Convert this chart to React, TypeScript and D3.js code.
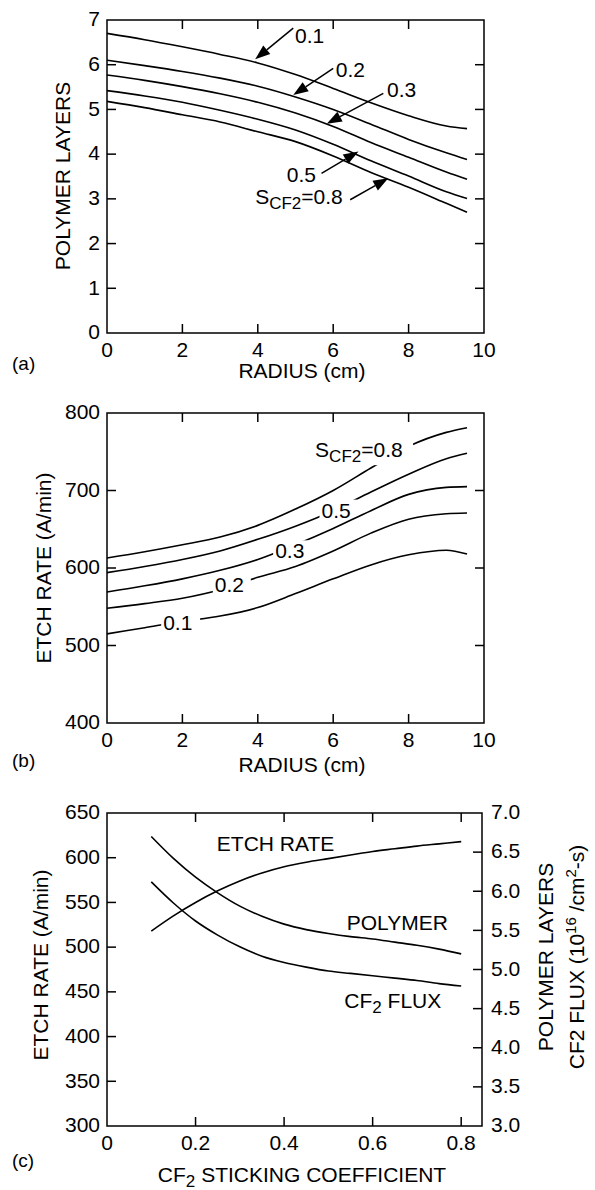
import React from "react";
import * as d3 from "d3";

// radius (cm) sample points shared by panels (a) and (b)
const radius = [0, 1, 2, 3, 4, 5, 6, 7, 8, 9, 9.55];

// (a) polymer layers vs radius, one array per sticking coefficient
const layers01 = [6.7, 6.56, 6.4, 6.23, 6.04, 5.78, 5.47, 5.15, 4.86, 4.63, 4.57];
const layers02 = [6.1, 5.98, 5.85, 5.7, 5.52, 5.28, 5.0, 4.67, 4.33, 4.03, 3.88];
const layers03 = [5.77, 5.65, 5.51, 5.35, 5.16, 4.92, 4.62, 4.26, 3.93, 3.6, 3.44];
const layers05 = [5.42, 5.3, 5.16, 4.98, 4.78, 4.54, 4.22, 3.85, 3.51, 3.16, 3.01];
const layers08 = [5.18, 5.04, 4.88, 4.72, 4.5, 4.28, 3.96, 3.59, 3.26, 2.9, 2.7];

// (b) etch rate (A/min) vs radius
const etch01 = [515, 523, 531, 538, 549, 567, 586, 604, 617, 623, 618];
const etch02 = [548, 554, 561, 572, 588, 602, 622, 645, 663, 670, 671];
const etch03 = [569, 577, 586, 597, 611, 630, 651, 674, 695, 704, 705];
const etch05 = [594, 602, 611, 622, 637, 654, 674, 698, 721, 741, 748];
const etch08 = [613, 621, 630, 640, 655, 676, 700, 729, 757, 775, 781];

// (c) vs CF2 sticking coefficient
const sticking = [0.1, 0.15, 0.2, 0.25, 0.3, 0.35, 0.4, 0.45, 0.5, 0.55, 0.6, 0.65, 0.7, 0.75, 0.8];
const etchRateC = [518, 535, 550, 563, 574, 583, 590, 595, 599, 603, 607, 610, 613, 615.5, 618];
const polymerC = [6.7, 6.42, 6.18, 5.98, 5.81, 5.68, 5.58, 5.51, 5.46, 5.42, 5.39, 5.35, 5.31, 5.26, 5.2];
const fluxC = [6.12, 5.85, 5.62, 5.44, 5.29, 5.17, 5.09, 5.03, 4.98, 4.95, 4.92, 4.89, 4.86, 4.82, 4.79];

// tick values
const xTicksR = [0, 2, 4, 6, 8, 10];
const yTicksA = [0, 1, 2, 3, 4, 5, 6, 7];
const yTicksB = [400, 500, 600, 700, 800];
const xTicksC = [0, 0.2, 0.4, 0.6, 0.8];
const yTicksCL = [300, 350, 400, 450, 500, 550, 600, 650];
const yTicksCR = [3, 3.5, 4, 4.5, 5, 5.5, 6, 6.5, 7];

const FONT = "'Liberation Sans', Arial, Helvetica, sans-serif";
const FS = 21;
const TICK = 9;
const SW = 1.5;

const xA = d3.scaleLinear().domain([0, 10]).range([107, 484]);
const yA = d3.scaleLinear().domain([0, 7]).range([333, 20]);
const xB = d3.scaleLinear().domain([0, 10]).range([107, 484]);
const yB = d3.scaleLinear().domain([400, 800]).range([723, 413]);
const xC = d3.scaleLinear().domain([0, 0.847]).range([107, 482]);
const yCL = d3.scaleLinear().domain([300, 650]).range([1126, 813]);
const yCR = d3.scaleLinear().domain([3, 7]).range([1126, 813]);

function path(xs: number[], ys: number[], xs_: any, ys_: any) {
  const gen = d3
    .line<number>()
    .x((_, i) => xs_(xs[i]))
    .y((d) => ys_(d))
    .curve(d3.curveMonotoneX);
  return gen(ys) || "";
}

function Frame({ x, y, xTicks, yTicks, right = true }: any) {
  const [x0, x1] = x.range();
  const [y0, y1] = y.range();
  const xd = x.domain();
  const yd = y.domain();
  const innerX = xTicks.filter((t: number) => t > xd[0] && t < xd[1]);
  const innerY = yTicks.filter((t: number) => t > yd[0] && t < yd[1]);
  return (
    <g stroke="#000" strokeWidth={SW} fill="none">
      <rect x={x0} y={y1} width={x1 - x0} height={y0 - y1} />
      {innerX.map((t: number) => (
        <g key={"x" + t}>
          <line x1={x(t)} x2={x(t)} y1={y0} y2={y0 - TICK} />
          <line x1={x(t)} x2={x(t)} y1={y1} y2={y1 + TICK} />
        </g>
      ))}
      {innerY.map((t: number) => (
        <g key={"y" + t}>
          <line x1={x0} x2={x0 + TICK} y1={y(t)} y2={y(t)} />
          {right && <line x1={x1} x2={x1 - TICK} y1={y(t)} y2={y(t)} />}
        </g>
      ))}
    </g>
  );
}

function TickLabels({ x, y, xTicks, yTicks, xFmt, yFmt }: any) {
  const [x0] = x.range();
  const [y0] = y.range();
  return (
    <g fontSize={FS} fill="#000">
      {xTicks.map((t: number) => (
        <text key={"x" + t} x={x(t)} y={y0 + 24} textAnchor="middle">
          {xFmt(t)}
        </text>
      ))}
      {yTicks.map((t: number) => (
        <text key={"y" + t} x={x0 - 7} y={y(t)} dy="0.3em" textAnchor="end">
          {yFmt(t)}
        </text>
      ))}
    </g>
  );
}

function Arrow({ tail, tip }: { tail: number[]; tip: number[] }) {
  const [x1, y1] = [xA(tail[0]), yA(tail[1])];
  const [x2, y2] = [xA(tip[0]), yA(tip[1])];
  const a = Math.atan2(y2 - y1, x2 - x1);
  const L = 15, w = 5.5;
  const bx = x2 - L * Math.cos(a), by = y2 - L * Math.sin(a);
  const px = -Math.sin(a) * w, py = Math.cos(a) * w;
  return (
    <g>
      <line x1={x1} y1={y1} x2={bx} y2={by} stroke="#000" strokeWidth={1.5} />
      <polygon points={`${x2},${y2} ${bx + px},${by + py} ${bx - px},${by - py}`} fill="#000" />
    </g>
  );
}

function SLabel({ x, y, value }: any) {
  return (
    <text x={x} y={y} fontSize={FS}>
      <tspan>S</tspan>
      <tspan fontSize={17} dy={5}>CF2</tspan>
      <tspan dy={-5}>={value}</tspan>
    </text>
  );
}

// annotation layout for (a): [radius, layers]
const arrowsA = [
  { label: "0.1", tail: [4.94, 6.82], tip: [3.93, 6.12], at: [4.99, 6.49] },
  { label: "0.2", tail: [6.0, 5.92], tip: [4.94, 5.32], at: [6.07, 5.73] },
  { label: "0.3", tail: [7.33, 5.36], tip: [5.83, 4.68], at: [7.43, 5.28] },
  { label: "0.5", tail: [5.69, 3.57], tip: [6.67, 4.06], at: [4.77, 3.38] },
  { label: "S", tail: [6.45, 2.98], tip: [7.46, 3.46], at: [3.93, 2.88] },
];

// in-line labels for (b): [radius, etch], text width (px), gap padding right
const labelsB = [
  { label: "0.1", at: [1.49, 520], w: 29, pad: 8 },
  { label: "0.2", at: [2.86, 569.4], w: 29, pad: 7 },
  { label: "0.3", at: [4.46, 612.5], w: 29, pad: 8 },
  { label: "0.5", at: [5.69, 665], w: 29, pad: 7 },
  { label: "S", at: [5.52, 743], w: 88, pad: 10 },
];

export default function App() {
  const seriesA = [layers01, layers02, layers03, layers05, layers08];
  const seriesB = [etch01, etch02, etch03, etch05, etch08];
  const intFmt = (t: number) => String(t);
  const oneFmt = d3.format(".1f");
  return (
    <svg
      width={595}
      height={1190}
      style={{ position: "absolute", left: 0, top: 0, background: "#fff" }}
      fontFamily={FONT}
    >
      <rect width={595} height={1190} fill="#fff" />
      <defs>
        {labelsB.map((l, i) => (
          <mask id={"gapB" + i} key={i} maskUnits="userSpaceOnUse" x={0} y={0} width={595} height={1190}>
            <rect x={0} y={0} width={595} height={1190} fill="#fff" />
            <rect
              x={xB(l.at[0]) - 2}
              y={yB(l.at[1]) - 18}
              width={l.w + l.pad + 2}
              height={26}
              fill="#000"
            />
          </mask>
        ))}
      </defs>

      {/* ---------- (a) ---------- */}
      <Frame x={xA} y={yA} xTicks={xTicksR} yTicks={yTicksA} />
      <TickLabels x={xA} y={yA} xTicks={xTicksR} yTicks={yTicksA} xFmt={intFmt} yFmt={intFmt} />
      <g fill="none" stroke="#000" strokeWidth={1.6}>
        {seriesA.map((s, i) => (
          <path key={i} d={path(radius, s, xA, yA)} />
        ))}
      </g>
      {arrowsA.map((a, i) => (
        <g key={i}>
          <Arrow tail={a.tail} tip={a.tip} />
          {a.label === "S" ? (
            <SLabel x={xA(a.at[0])} y={yA(a.at[1])} value="0.8" />
          ) : (
            <text x={xA(a.at[0])} y={yA(a.at[1])} fontSize={FS}>
              {a.label}
            </text>
          )}
        </g>
      ))}
      <text x={0} y={0} fontSize={FS} textAnchor="middle" transform="translate(70,176) rotate(-90)">
        POLYMER LAYERS
      </text>
      <text x={302} y={378} fontSize={FS} textAnchor="middle">
        RADIUS (cm)
      </text>
      <text x={12} y={370} fontSize={19}>
        (a)
      </text>

      {/* ---------- (b) ---------- */}
      <Frame x={xB} y={yB} xTicks={xTicksR} yTicks={yTicksB} />
      <TickLabels x={xB} y={yB} xTicks={xTicksR} yTicks={yTicksB} xFmt={intFmt} yFmt={intFmt} />
      <g fill="none" stroke="#000" strokeWidth={1.6}>
        {seriesB.map((s, i) => (
          <path key={i} d={path(radius, s, xB, yB)} mask={`url(#gapB${i})`} />
        ))}
      </g>
      {labelsB.map((l, i) =>
        l.label === "S" ? (
          <SLabel key={i} x={xB(l.at[0])} y={yB(l.at[1])} value="0.8" />
        ) : (
          <text key={i} x={xB(l.at[0])} y={yB(l.at[1])} fontSize={FS}>
            {l.label}
          </text>
        )
      )}
      <text x={0} y={0} fontSize={FS} textAnchor="middle" transform="translate(51,568) rotate(-90)">
        ETCH RATE (A/min)
      </text>
      <text x={302} y={772} fontSize={FS} textAnchor="middle">
        RADIUS (cm)
      </text>
      <text x={12} y={767} fontSize={19}>
        (b)
      </text>

      {/* ---------- (c) ---------- */}
      <Frame x={xC} y={yCL} xTicks={xTicksC} yTicks={yTicksCL} right={false} />
      <g stroke="#000" strokeWidth={SW}>
        {yTicksCR
          .filter((t) => t > 3 && t < 7)
          .map((t) => (
            <line key={t} x1={482} x2={482 - TICK} y1={yCR(t)} y2={yCR(t)} />
          ))}
      </g>
      <TickLabels
        x={xC}
        y={yCL}
        xTicks={xTicksC}
        yTicks={yTicksCL}
        xFmt={(t: number) => (t === 0 ? "0" : String(t))}
        yFmt={intFmt}
      />
      <g fontSize={FS}>
        {yTicksCR.map((t) => (
          <text key={t} x={491} y={yCR(t)} dy="0.3em">
            {oneFmt(t)}
          </text>
        ))}
      </g>
      <g fill="none" stroke="#000" strokeWidth={1.6}>
        <path d={path(sticking, etchRateC, xC, yCL)} />
        <path d={path(sticking, polymerC, xC, yCR)} />
        <path d={path(sticking, fluxC, xC, yCR)} />
      </g>
      <text x={xC(0.248)} y={yCL(607.6)} fontSize={FS}>
        ETCH RATE
      </text>
      <text x={xC(0.5416)} y={yCR(5.505)} fontSize={FS}>
        POLYMER
      </text>
      <text x={xC(0.536)} y={yCR(4.51)} fontSize={FS}>
        <tspan>CF</tspan>
        <tspan fontSize={17} dy={5}>2</tspan>
        <tspan dy={-5}> FLUX</tspan>
      </text>
      <text x={0} y={0} fontSize={FS} textAnchor="middle" transform="translate(48,965) rotate(-90)">
        ETCH RATE (A/min)
      </text>
      <text x={0} y={0} fontSize={FS} textAnchor="middle" transform="translate(553,957) rotate(-90)">
        POLYMER LAYERS
      </text>
      <text x={0} y={0} fontSize={FS} textAnchor="middle" transform="translate(584,957) rotate(-90)">
        <tspan>CF2 FLUX (10</tspan>
        <tspan fontSize={15} dy={-8}>16</tspan>
        <tspan dy={8}> /cm</tspan>
        <tspan fontSize={15} dy={-8}>2</tspan>
        <tspan dy={8}>-s)</tspan>
      </text>
      <text x={302} y={1182} fontSize={FS} textAnchor="middle">
        <tspan>CF</tspan>
        <tspan fontSize={17} dy={5}>2</tspan>
        <tspan dy={-5}> STICKING COEFFICIENT</tspan>
      </text>
      <text x={12} y={1167} fontSize={19}>
        (c)
      </text>
    </svg>
  );
}
